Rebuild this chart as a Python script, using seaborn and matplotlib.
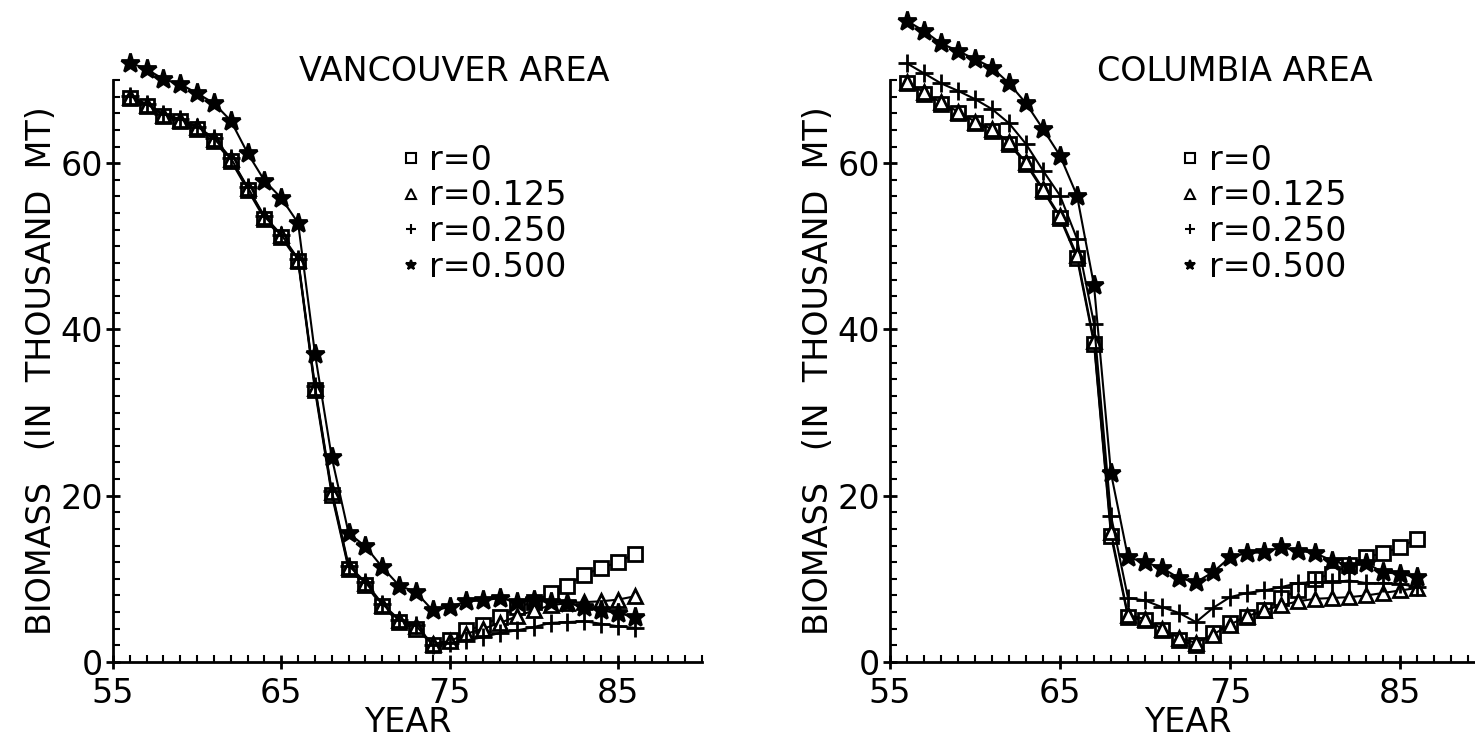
import matplotlib
matplotlib.use("Agg")
import matplotlib.pyplot as plt
from matplotlib.lines import Line2D
from matplotlib.ticker import MultipleLocator
import pandas as pd
import seaborn as sns

# --- data (biomass, thousand MT) ---
years = list(range(56, 87))
r_labels = ["r=0", "r=0.125", "r=0.250", "r=0.500"]

van_r0 = [67.8, 66.9, 65.7, 65.1, 64.1, 62.7, 60.3, 56.8, 53.3, 51.1, 48.2,
          32.7, 20.1, 11.2, 9.3, 6.7, 4.8, 4.0, 2.1, 2.6, 3.8, 4.4, 5.4, 6.6,
          7.2, 8.3, 9.2, 10.5, 11.3, 12.0, 13.0]
van_r125 = [68.0, 67.0, 65.8, 65.2, 64.3, 62.9, 60.5, 57.0, 53.5, 51.3, 48.4,
            33.0, 20.4, 11.4, 9.5, 6.9, 5.0, 4.3, 2.2, 2.5, 3.4, 4.0, 4.7, 5.5,
            6.2, 6.8, 7.1, 7.2, 7.3, 7.5, 7.9]
van_r250 = [68.1, 67.1, 65.9, 65.3, 64.4, 63.0, 60.6, 57.1, 53.6, 51.4, 48.5,
            33.2, 20.6, 11.6, 9.6, 7.0, 5.1, 4.4, 2.0, 2.3, 2.6, 3.0, 3.5, 3.8,
            4.2, 4.7, 4.8, 4.9, 4.6, 4.3, 4.1]
van_r500 = [72.1, 71.3, 70.1, 69.5, 68.4, 67.2, 65.1, 61.2, 57.9, 55.8, 52.8,
            37.1, 24.6, 15.5, 13.9, 11.4, 9.2, 8.4, 6.2, 6.6, 7.3, 7.4, 7.7, 7.2,
            7.4, 7.2, 7.1, 6.6, 6.2, 5.9, 5.4]

col_r0 = [69.6, 68.3, 67.1, 66.0, 64.8, 63.9, 62.3, 59.9, 56.7, 53.4, 48.6,
          38.3, 15.2, 5.4, 5.0, 3.8, 2.6, 2.0, 3.5, 4.7, 5.4, 6.2, 7.7, 8.6,
          10.0, 10.6, 11.7, 12.6, 13.1, 13.8, 14.8]
col_r125 = [69.8, 68.5, 67.3, 66.2, 65.0, 64.1, 62.5, 60.1, 56.9, 53.6, 48.9,
            38.6, 15.6, 5.6, 5.2, 4.0, 2.9, 2.3, 3.3, 4.5, 5.5, 6.2, 6.8, 7.3,
            7.6, 7.7, 7.8, 8.0, 8.3, 8.6, 8.9]
col_r250 = [72.0, 70.8, 69.6, 68.7, 67.7, 66.5, 64.8, 62.3, 59.1, 56.1, 50.9,
            40.7, 17.6, 7.7, 7.4, 6.6, 5.9, 4.8, 6.5, 7.8, 8.3, 8.6, 9.0, 9.5,
            9.6, 9.6, 9.8, 9.5, 9.5, 9.4, 9.0]
col_r500 = [77.1, 75.9, 74.4, 73.5, 72.5, 71.5, 69.6, 67.2, 64.1, 60.9, 56.1,
            45.3, 22.7, 12.6, 12.0, 11.3, 10.1, 9.6, 10.8, 12.6, 13.1, 13.2, 13.8,
            13.4, 13.1, 12.2, 11.6, 11.9, 10.8, 10.6, 10.2]

panels = [
    ("VANCOUVER AREA", [van_r0, van_r125, van_r250, van_r500]),
    ("COLUMBIA AREA", [col_r0, col_r125, col_r250, col_r500]),
]

# marker, face colour, size
marker_styles = [("s", "white", 10), ("^", "white", 10), ("+", "black", 13), ("*", "black", 14)]

sns.set_style("ticks")
plt.rcParams["font.family"] = ["DejaVu Sans"]
for key in ("text.color", "axes.labelcolor", "xtick.color", "ytick.color", "axes.edgecolor"):
    plt.rcParams[key] = "black"

fig = plt.figure(figsize=(14.75, 7.43), dpi=100)
axes_rects = [
    [113 / 1475, 1 - 662 / 743, 589 / 1475, 582 / 743],
    [890 / 1475, 1 - 662 / 743, 595 / 1475, 582 / 743],
]

for rect, (title, series) in zip(axes_rects, panels):
    ax = fig.add_axes(rect)
    for lbl, vals, (mk, fc, ms) in zip(r_labels, series, marker_styles):
        df = pd.DataFrame({"year": years, "biomass": vals})
        sns.lineplot(data=df, x="year", y="biomass", ax=ax, color="black",
                     linewidth=1.5, marker=mk, markersize=ms, markerfacecolor=fc,
                     markeredgecolor="black", markeredgewidth=2, clip_on=False)
    ax.set_xlim(55, 90)
    ax.set_ylim(0, 70)
    ax.set_xticks([55, 65, 75, 85])
    ax.set_yticks([0, 20, 40, 60])
    ax.xaxis.set_minor_locator(MultipleLocator(1))
    ax.yaxis.set_minor_locator(MultipleLocator(2))
    ax.tick_params(which="major", direction="inout", length=10, width=2,
                   labelsize=24, pad=2)
    ax.tick_params(axis="x", which="major", pad=6)
    ax.tick_params(which="minor", direction="in", length=5, width=1.5)
    sns.despine(ax=ax)
    for s in ("left", "bottom"):
        ax.spines[s].set_linewidth(2)
    ax.set_xlabel("YEAR", fontsize=24, labelpad=-3)
    ax.set_ylabel("BIOMASS   (IN  THOUSAND  MT)", fontsize=24, labelpad=2)
    ax.text(0.58, 1.014, title, transform=ax.transAxes, fontsize=24,
            ha="center", va="center")

    handles = [Line2D([], [], linestyle="none", marker=mk, markersize=7,
                      markerfacecolor=fc, markeredgecolor="black", markeredgewidth=1.5)
               for mk, fc, _ in marker_styles]
    ax.legend(handles, r_labels, loc="upper left", bbox_to_anchor=(0.46, 0.919),
              frameon=False, fontsize=24, handlelength=0.6, handletextpad=0.25,
              labelspacing=0.08, borderpad=0)

fig.savefig("out.png", dpi=100)
